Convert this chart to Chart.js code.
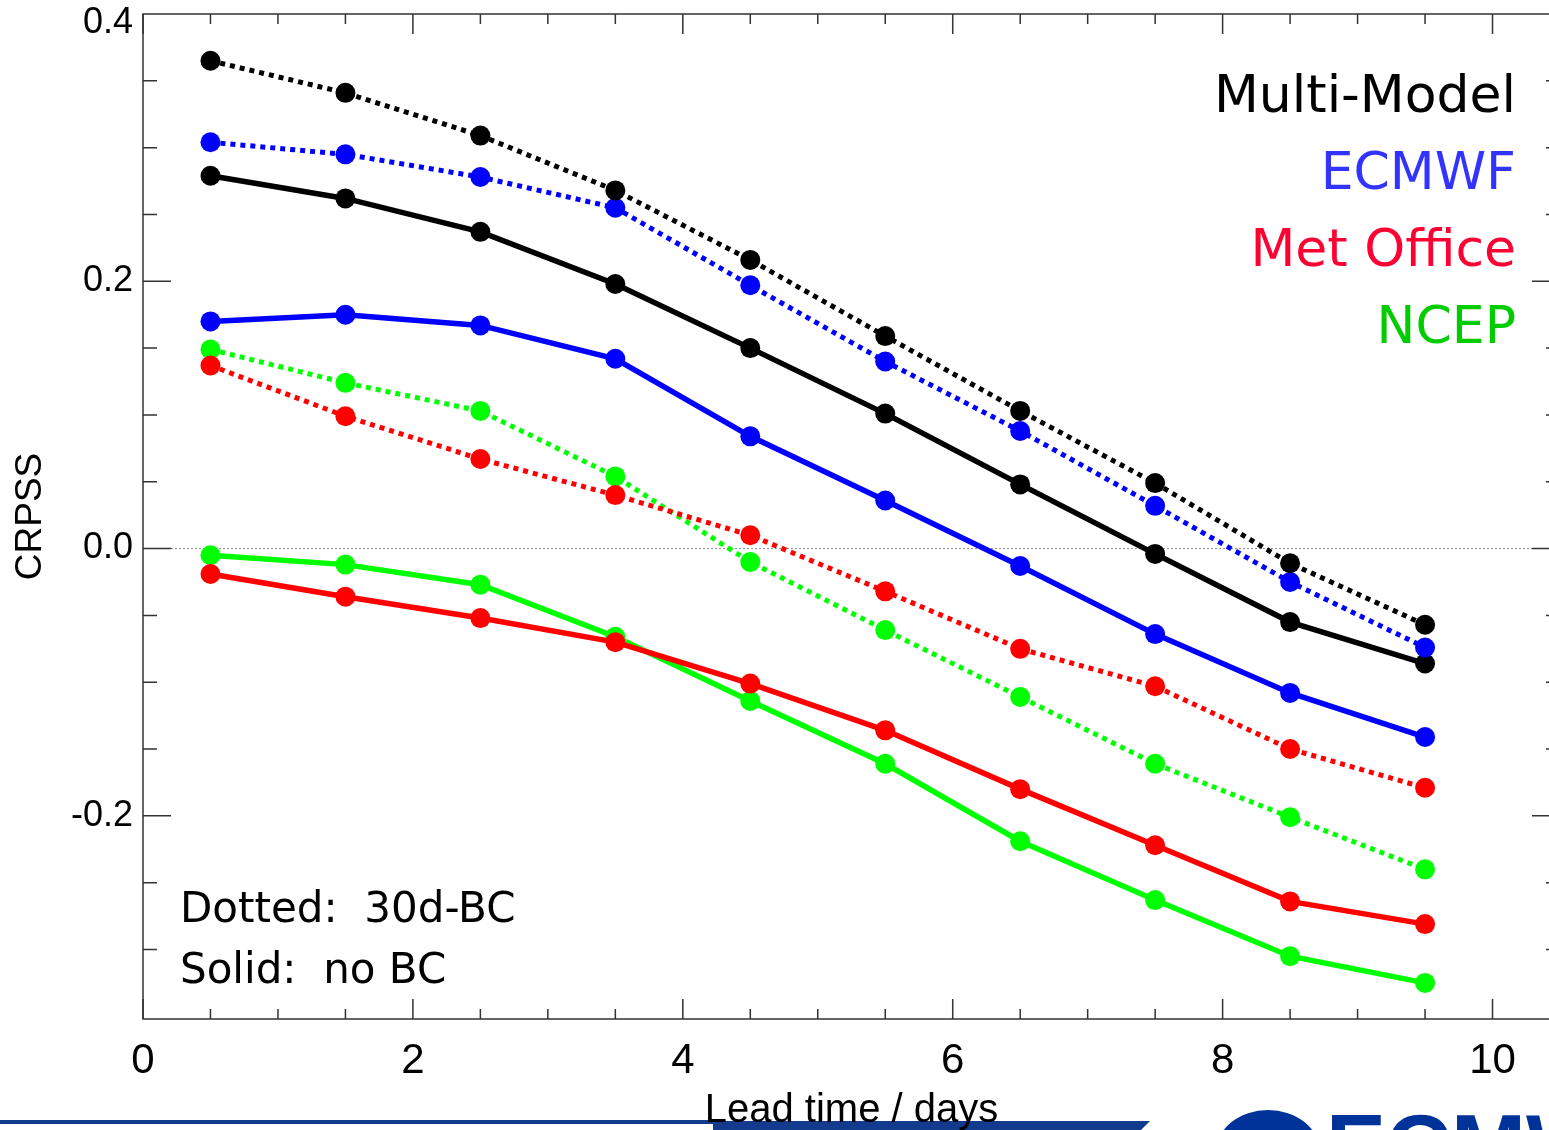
<!DOCTYPE html>
<html>
<head>
<meta charset="utf-8">
<title>CRPSS vs lead time</title>
<script src="https://cdn.jsdelivr.net/npm/chart.js@4.4.1/dist/chart.umd.min.js"></script>
<style>
  html, body { margin: 0; padding: 0; background: #fff; overflow: hidden; }
  #wrap { position: absolute; left: 0; top: 0; width: 1570px; height: 1130px; }
</style>
</head>
<body>
<div id="wrap"><canvas id="crpssChart" width="1570" height="1130"></canvas></div>
<script>
// lead time (days) of each point
const leadTime = [0.5, 1.5, 2.5, 3.5, 4.5, 5.5, 6.5, 7.5, 8.5, 9.5];

// dotted = 30d bias corrected, solid = no BC
const multiModelBC = [0.365, 0.341, 0.309, 0.268, 0.216, 0.159, 0.103, 0.049, -0.011, -0.057];
const ecmwfBC      = [0.304, 0.295, 0.278, 0.255, 0.197, 0.140, 0.088, 0.032, -0.025, -0.074];
const metOfficeBC  = [0.137, 0.099, 0.067, 0.040, 0.010, -0.032, -0.075, -0.103, -0.150, -0.179];
const ncepBC       = [0.149, 0.124, 0.103, 0.054, -0.010, -0.061, -0.111, -0.161, -0.201, -0.240];

const multiModelRaw = [0.279, 0.262, 0.237, 0.198, 0.150, 0.101, 0.048, -0.004, -0.055, -0.086];
const ecmwfRaw      = [0.170, 0.175, 0.167, 0.142, 0.084, 0.036, -0.013, -0.064, -0.108, -0.141];
const metOfficeRaw  = [-0.019, -0.036, -0.052, -0.070, -0.101, -0.136, -0.180, -0.222, -0.264, -0.281];
const ncepRaw       = [-0.005, -0.012, -0.027, -0.066, -0.114, -0.161, -0.219, -0.263, -0.305, -0.325];

// axis tick labels
const xTicks = [0, 2, 4, 6, 8, 10];
const yTicks = [-0.2, 0.0, 0.2, 0.4];

// text in the plot
const modelNames = ['Multi-Model', 'ECMWF', 'Met Office', 'NCEP'];
const modelTextColors = ['#000000', '#3333ff', '#ff0033', '#00cc00'];
const styleNotes = ['Dotted:  30d-BC', 'Solid:  no BC'];

function serie(label, values, color, dotted) {
    return {
        label: label,
        data: leadTime.map((x, i) => ({ x: x, y: values[i] })),
        borderColor: color,
        backgroundColor: color,
        pointBackgroundColor: color,
        pointBorderWidth: 0,
        pointRadius: 10,
        pointHoverRadius: 10,
        borderWidth: dotted ? 5 : 5.5,
        borderDash: dotted ? [5, 5] : [],
        tension: 0,
        clip: false
    };
}

// frame, inward ticks, zero line, text and the footer band
const plotDecor = {
    id: 'plotDecor',
    beforeDraw(chart) {
        const ctx = chart.ctx;
        ctx.save();
        ctx.fillStyle = '#123b8e';
        ctx.fillRect(0, 1120, 716, 4);
        ctx.beginPath();
        ctx.moveTo(713, 1121);
        ctx.lineTo(1150, 1121);
        ctx.lineTo(1141, 1130);
        ctx.lineTo(713, 1130);
        ctx.closePath();
        ctx.fill();
        ctx.fillStyle = '#003399';
        ctx.beginPath();
        ctx.ellipse(1268, 1152, 52, 42, 0, 0, Math.PI * 2);
        ctx.fill();
        ctx.font = 'bold 90px "Liberation Sans", Arial, sans-serif';
        ctx.textBaseline = 'alphabetic';
        ctx.fillText('ECMWF', 1326, 1178);
        ctx.restore();
    },
    beforeDatasetsDraw(chart) {
        const { ctx, chartArea: a, scales: { x, y } } = chart;
        ctx.save();
        // zero line
        const y0 = y.getPixelForValue(0);
        ctx.strokeStyle = '#8a8a8a';
        ctx.lineWidth = 1;
        ctx.setLineDash([2, 2]);
        ctx.beginPath();
        ctx.moveTo(a.left, y0);
        ctx.lineTo(a.right, y0);
        ctx.stroke();
        ctx.setLineDash([]);

        ctx.strokeStyle = '#333333';
        ctx.lineWidth = 1.5;
        ctx.strokeRect(a.left, a.top, a.right - a.left, a.bottom - a.top);

        ctx.beginPath();
        for (let i = 0; i <= 15; i++) {
            const v = -0.35 + i * 0.05;
            const p = y.getPixelForValue(v);
            if (p > a.bottom - 3 || p < a.top + 3) continue;
            const major = Math.abs(v / 0.2 - Math.round(v / 0.2)) < 1e-6;
            const len = major ? 28 : 14;
            ctx.moveTo(a.left, p); ctx.lineTo(a.left + len, p);
            ctx.moveTo(a.right, p); ctx.lineTo(a.right - len, p);
        }
        for (let i = 0; i <= 21; i++) {
            const v = i * 0.5;
            const p = x.getPixelForValue(v);
            const major = v % 2 === 0;
            const len = major ? 20 : 10;
            ctx.moveTo(p, a.bottom); ctx.lineTo(p, a.bottom - len);
            ctx.moveTo(p, a.top); ctx.lineTo(p, a.top + len);
        }
        ctx.stroke();
        ctx.restore();
    },
    afterDraw(chart) {
        const { ctx, chartArea: a } = chart;
        ctx.save();
        ctx.textBaseline = 'alphabetic';
        ctx.font = '52px "DejaVu Sans", sans-serif';
        ctx.textAlign = 'right';
        modelNames.forEach((name, i) => {
            ctx.fillStyle = modelTextColors[i];
            ctx.fillText(name, a.right - 44, a.top + 98 + i * 77);
        });
        ctx.font = '42px "DejaVu Sans", sans-serif';
        ctx.textAlign = 'left';
        ctx.fillStyle = '#000000';
        styleNotes.forEach((note, i) => {
            ctx.fillText(note, a.left + 37, a.bottom - 97 + i * 61);
        });
        ctx.restore();
    }
};

var ctx = document.getElementById('crpssChart').getContext('2d');

new Chart(ctx, {
    type: 'line',
    data: {
        datasets: [
            serie('Multi-Model 30d-BC', multiModelBC, '#000000', true),
            serie('ECMWF 30d-BC', ecmwfBC, '#0000ff', true),
            serie('Met Office 30d-BC', metOfficeBC, '#ff0000', true),
            serie('NCEP 30d-BC', ncepBC, '#00ff00', true),
            serie('Multi-Model no BC', multiModelRaw, '#000000', false),
            serie('ECMWF no BC', ecmwfRaw, '#0000ff', false),
            serie('Met Office no BC', metOfficeRaw, '#ff0000', false),
            serie('NCEP no BC', ncepRaw, '#00ff00', false)
        ]
    },
    options: {
        responsive: false,
        animation: false,
        layout: {
            padding: { top: 14, right: 3, left: 0, bottom: 0 }
        },
        plugins: {
            legend: { display: false },
            tooltip: { enabled: true }
        },
        scales: {
            x: {
                type: 'linear',
                min: 0,
                max: 10.5,
                afterBuildTicks: function (scale) {
                    scale.ticks = xTicks.map(v => ({ value: v }));
                },
                afterFit: function (scale) {
                    scale.height = 111;
                    scale.paddingLeft = 0;
                    scale.paddingRight = 0;
                },
                grid: { display: false, drawTicks: false },
                border: { display: false },
                ticks: {
                    color: '#000000',
                    padding: 17,
                    maxRotation: 0,
                    font: { family: '"Liberation Sans", Arial, sans-serif', size: 42 },
                    callback: function (value) {
                        return String(value);
                    }
                },
                title: {
                    display: true,
                    text: 'Lead time / days',
                    color: '#000000',
                    padding: { top: 0, bottom: 0 },
                    font: { family: '"Liberation Sans", Arial, sans-serif', size: 40, lineHeight: 0.95 }
                }
            },
            y: {
                min: -0.352,
                max: 0.4,
                afterBuildTicks: function (scale) {
                    scale.ticks = yTicks.map(v => ({ value: v }));
                },
                afterFit: function (scale) {
                    scale.width = 143;
                    scale.paddingTop = 0;
                    scale.paddingBottom = 0;
                },
                grid: { display: false, drawTicks: false },
                border: { display: false },
                ticks: {
                    color: '#000000',
                    padding: 10,
                    // the top label sits a little below its tick, as in the original
                    font: function (c) {
                        const top = c.tick && Math.abs(c.tick.value - 0.4) < 1e-9;
                        return { family: '"Liberation Sans", Arial, sans-serif', size: 36, lineHeight: top ? '18px' : 1.2 };
                    },
                    callback: function (value) {
                        const txt = value.toFixed(1);
                        return Math.abs(value - 0.4) < 1e-9 ? ['', txt] : txt;
                    }
                },
                title: {
                    display: true,
                    text: 'CRPSS',
                    color: '#000000',
                    padding: { top: 12, bottom: 0 },
                    font: { family: '"Liberation Sans", Arial, sans-serif', size: 37, lineHeight: 1 }
                }
            }
        }
    },
    plugins: [plotDecor]
});
</script>
</body>
</html>
